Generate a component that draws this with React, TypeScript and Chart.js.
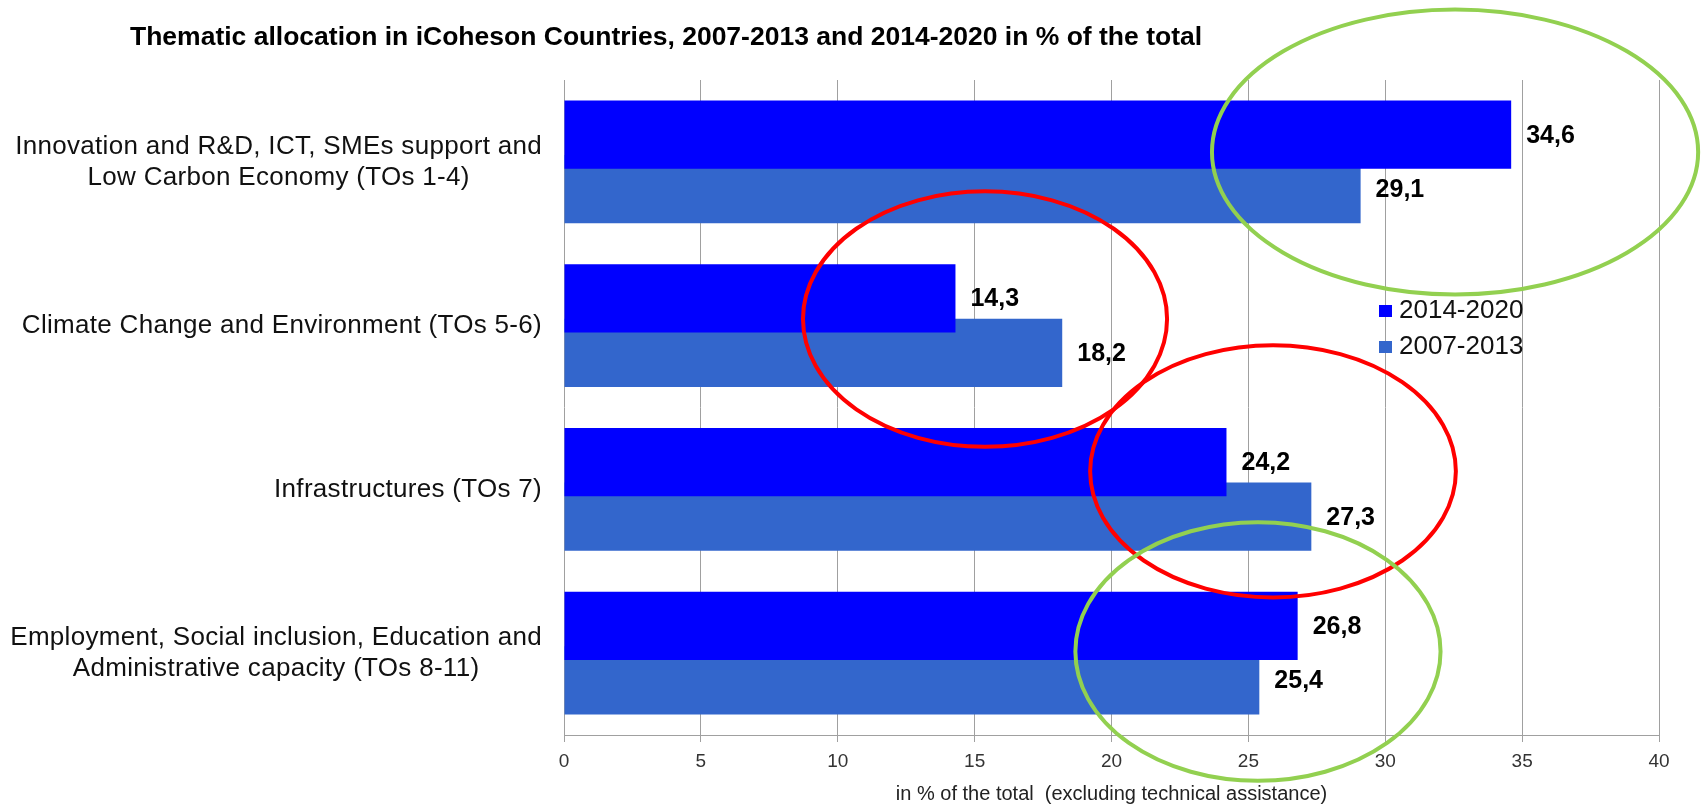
import React, { useEffect, useRef } from "react";
import { Chart, registerables } from "chart.js";

Chart.register(...registerables);

const TITLE =
  "Thematic allocation in iCoheson Countries, 2007-2013 and 2014-2020 in % of the total";
const CATEGORIES: string[][] = [
  ["Innovation and R&D, ICT, SMEs support and", "Low Carbon Economy (TOs 1-4)"],
  ["Climate Change and Environment (TOs 5-6)"],
  ["Infrastructures (TOs 7)"],
  ["Employment, Social inclusion, Education and", "Administrative capacity (TOs 8-11)"],
];
const SERIES_NAMES = ["2014-2020", "2007-2013"];
const SERIES_COLORS = ["#0000FF", "#3366CC"];
const VALUES_2014_2020 = [34.6, 14.3, 24.2, 26.8];
const VALUES_2007_2013 = [29.1, 18.2, 27.3, 25.4];
const X_TICKS = [0, 5, 10, 15, 20, 25, 30, 35, 40];
const X_TITLE = "in % of the total  (excluding technical assistance)";

// Highlight ellipses, in data units (value axis / category index)
const ELLIPSE_COLORS = ["#92D050", "#FF0000", "#FF0000", "#92D050"];
const ELLIPSE_CX = [32.55, 15.38, 25.9, 25.35];
const ELLIPSE_CY = [-0.06, 0.96, 1.89, 2.99];
const ELLIPSE_RX = [8.88, 6.65, 6.68, 6.67];
const ELLIPSE_RY = [0.87, 0.78, 0.77, 0.79];

const FONT = "'Liberation Sans', Arial, Helvetica, sans-serif";

const fmt = (v: number) => v.toFixed(1).replace(".", ",");

const decorPlugin = {
  id: "decor",
  afterDraw(chart: any) {
    const ctx = chart.ctx as CanvasRenderingContext2D;
    const xs = chart.scales.x;
    const ys = chart.scales.y;
    ctx.save();

    // Title
    ctx.fillStyle = "#000";
    ctx.font = `bold 26.5px ${FONT}`;
    ctx.textAlign = "left";
    ctx.textBaseline = "middle";
    ctx.fillText(TITLE, 130, 38);

    // Category labels (right-aligned block, lines centered)
    ctx.font = `26px ${FONT}`;
    (ctx as any).letterSpacing = "0.3px";
    ctx.fillStyle = "#111";
    ctx.textAlign = "center";
    ctx.textBaseline = "middle";
    const rightEdge = ys.right - 22;
    CATEGORIES.forEach((lines, i) => {
      const cy = ys.getPixelForValue(i);
      const w = Math.max(...lines.map((l) => ctx.measureText(l).width));
      const cx = rightEdge - w / 2;
      lines.forEach((l, j) => {
        ctx.fillText(l, cx, cy + (j - (lines.length - 1) / 2) * 31);
      });
    });
    (ctx as any).letterSpacing = "0px";

    // Value labels
    ctx.font = `bold 25px ${FONT}`;
    ctx.fillStyle = "#000";
    ctx.textAlign = "left";
    chart.data.datasets.forEach((ds: any, di: number) => {
      const meta = chart.getDatasetMeta(di);
      meta.data.forEach((el: any, i: number) => {
        ctx.fillText(fmt(ds.data[i]), el.x + 15, el.y + 1);
      });
    });

    // Legend
    ctx.font = `26px ${FONT}`;
    ctx.textAlign = "left";
    ctx.textBaseline = "middle";
    SERIES_NAMES.forEach((name, i) => {
      const y = 311 + i * 36;
      ctx.fillStyle = SERIES_COLORS[i];
      ctx.fillRect(1379, y - 6, 13, 12);
      ctx.fillStyle = "#111";
      ctx.fillText(name, 1399, y);
    });

    // Highlight ellipses
    ctx.lineWidth = 4;
    ELLIPSE_CX.forEach((cxv, i) => {
      const cx = xs.getPixelForValue(cxv);
      const cy = ys.getPixelForValue(ELLIPSE_CY[i]);
      const rx = Math.abs(xs.getPixelForValue(cxv + ELLIPSE_RX[i]) - cx);
      const ry = Math.abs(ys.getPixelForValue(ELLIPSE_CY[i] + ELLIPSE_RY[i]) - cy);
      ctx.strokeStyle = ELLIPSE_COLORS[i];
      ctx.beginPath();
      ctx.ellipse(cx, cy, rx, ry, 0, 0, Math.PI * 2);
      ctx.stroke();
    });

    ctx.restore();
  },
};

export default function App() {
  const ref = useRef<HTMLCanvasElement>(null);

  useEffect(() => {
    if (!ref.current) return;
    const chart = new Chart(ref.current, {
      type: "bar",
      data: {
        labels: CATEGORIES.map((c) => c.join(" ")),
        datasets: [
          {
            label: SERIES_NAMES[0],
            data: VALUES_2014_2020,
            backgroundColor: SERIES_COLORS[0],
            borderWidth: 0,
            order: 0,
          },
          {
            label: SERIES_NAMES[1],
            data: VALUES_2007_2013,
            backgroundColor: SERIES_COLORS[1],
            borderWidth: 0,
            order: 1,
          },
        ],
      },
      options: {
        indexAxis: "y",
        responsive: false,
        animation: false,
        devicePixelRatio: 1,
        layout: { padding: { top: 80, right: 42, left: 0, bottom: 0 } },
        datasets: { bar: { categoryPercentage: 0.666, barPercentage: 1.248 } },
        plugins: {
          legend: { display: false },
          title: { display: false },
          tooltip: { enabled: false },
        },
        scales: {
          x: {
            type: "linear",
            min: 0,
            max: 40,
            afterBuildTicks: (s: any) => {
              s.ticks = X_TICKS.map((v) => ({ value: v }));
            },
            afterFit: (s: any) => {
              s.height = 71;
            },
            grid: { color: "#a0a0a0", lineWidth: 1, tickLength: 7, drawTicks: true },
            border: { display: true, color: "#a0a0a0", width: 1 },
            ticks: {
              padding: 8,
              color: "#333",
              font: { family: FONT, size: 19 },
            },
            title: {
              display: true,
              text: X_TITLE,
              color: "#222",
              font: { family: FONT, size: 20 },
              padding: { top: 0, bottom: 0 },
            },
          },
          y: {
            type: "category",
            afterFit: (s: any) => {
              s.width = 564;
            },
            grid: { display: false },
            border: { display: false },
            ticks: { display: false },
          },
        },
      },
      plugins: [decorPlugin],
    } as any);
    return () => chart.destroy();
  }, []);

  return (
    <div style={{ position: "fixed", left: 0, top: 0, width: 1701, height: 806, background: "#fff" }}>
      <canvas ref={ref} width={1701} height={806} style={{ display: "block" }} />
    </div>
  );
}
